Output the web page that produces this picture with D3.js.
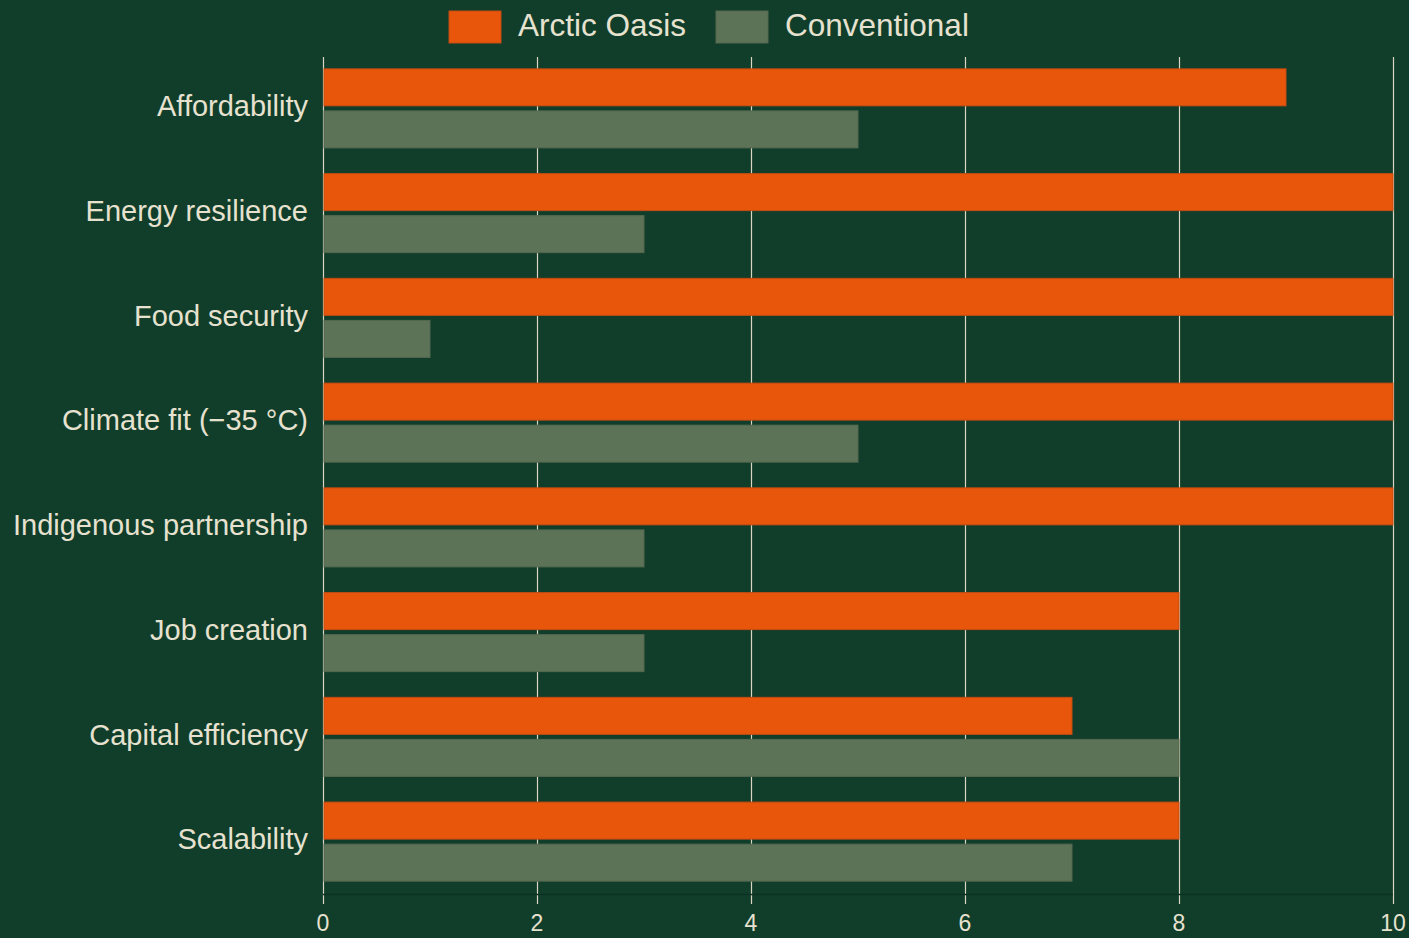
<!DOCTYPE html>
<html><head><meta charset="utf-8">
<script src="https://cdn.jsdelivr.net/npm/d3@7"></script>
<style>
html,body{margin:0;padding:0;background:#113d2b;}
svg{display:block;font-family:"Liberation Sans",Arial,sans-serif;}
</style></head>
<body>
<svg id="chart" width="1409" height="938"></svg>
<script>
const categories = ["Affordability","Energy resilience","Food security","Climate fit (\u221235 \u00b0C)","Indigenous partnership","Job creation","Capital efficiency","Scalability"];
const seriesNames = ["Arctic Oasis","Conventional"];
const arcticOasis = [9,10,10,10,10,8,7,8];
const conventional = [5,3,1,5,3,3,8,7];
const xTicks = [0,2,4,6,8,10];
const colors = ["#e8560b","#5c7358"];
const strokes = ["#c44d12","#55694f"];

const svg = d3.select("#chart");
const W = 1409, H = 938;
const m = {left:323, right:16, top:56, bottom:44};
const x = d3.scaleLinear().domain([0,10]).range([m.left, W - m.right]);
const y0 = d3.scaleBand().domain(categories).range([m.top, H - m.bottom]).paddingInner(0.2455).paddingOuter(0.1228);
const y1 = d3.scaleBand().domain(seriesNames).range([0, y0.bandwidth()]).paddingInner(0.12).paddingOuter(0);
const data = categories.map((c,i)=>({cat:c, vals:[arcticOasis[i], conventional[i]]}));

svg.append("rect").attr("width",W).attr("height",H).attr("fill","#113d2b");

// grid
svg.append("g").selectAll("line").data(xTicks).join("line")
  .attr("x1",d=>Math.round(x(d))+0.5).attr("x2",d=>Math.round(x(d))+0.5)
  .attr("y1",m.top+1).attr("y2",H-m.bottom+10)
  .attr("stroke","#d9d6c2").attr("stroke-width",1.2);

// bottom axis baseline (faint)
svg.append("line").attr("x1",m.left).attr("x2",W-m.right).attr("y1",H-m.bottom+0.5).attr("y2",H-m.bottom+0.5)
  .attr("stroke","#0c3322").attr("stroke-width",1.5);

// bars
const g = svg.append("g").selectAll("g").data(data).join("g")
  .attr("transform",d=>`translate(0,${y0(d.cat)})`);
g.selectAll("rect").data(d=>d.vals.map((v,j)=>({v,j,s:seriesNames[j]}))).join("rect")
  .attr("x",x(0)+1).attr("y",d=>y1(d.s)).attr("height",y1.bandwidth())
  .attr("width",d=>x(d.v)-x(0)-1)
  .attr("fill",d=>colors[d.j]).attr("stroke",d=>strokes[d.j]).attr("stroke-width",1);

// x tick labels
svg.append("g").selectAll("text").data(xTicks).join("text")
  .attr("x",d=>x(d)).attr("y",H-m.bottom+37).attr("text-anchor","middle")
  .attr("fill","#e6e2cf").attr("font-size",23).text(d=>d);

// category labels
svg.append("g").selectAll("text").data(categories).join("text")
  .attr("x",m.left-15).attr("y",d=>y0(d)+y0.bandwidth()/2).attr("dy","0.27em")
  .attr("text-anchor","end").attr("fill","#e6e2cf").attr("font-size",29).text(d=>d);

// legend
const leg = svg.append("g");
const legX = [449, 716];
seriesNames.forEach((s,i)=>{
  leg.append("rect").attr("x",legX[i]).attr("y",11).attr("width",52).attr("height",32)
    .attr("fill",colors[i]).attr("stroke",strokes[i]).attr("stroke-width",1);
  leg.append("text").attr("x",legX[i]+69).attr("y",36).attr("fill","#e6e2cf")
    .attr("font-size",31.5).text(s);
});
</script>
</body></html>
